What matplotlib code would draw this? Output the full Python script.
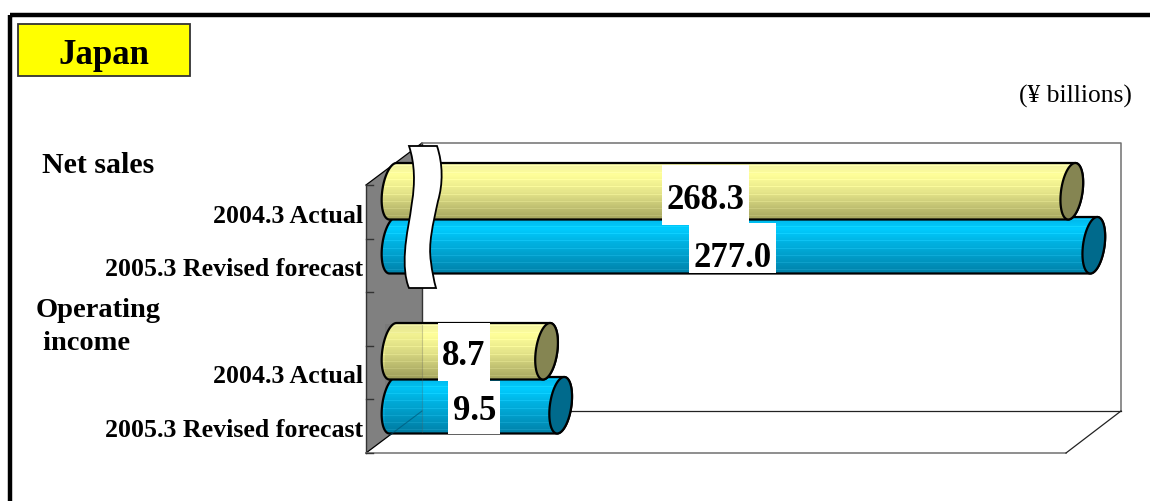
import numpy as np
import matplotlib
matplotlib.use("Agg")
import matplotlib.pyplot as plt
from matplotlib.patches import PathPatch, Polygon, Rectangle
from matplotlib.path import Path

plt.rcParams['font.family'] = ['Liberation Serif', 'DejaVu Serif']

# data
groups = ["Net sales", "Operating\n income"]
periods = ["2004.3 Actual", "2005.3 Revised forecast"]
net_sales = [268.3, 277.0]
operating_income = [8.7, 9.5]

# the axis is broken, each group has its own scale (pixels per unit)
base_x = 393
scale_net = 2.53
scale_op = 17.65

# layout in pixels
bar_tops = [[164, 218], [324, 378]]
bar_h = 56.5
label_frac = [0.46, 0.485]
box_spans = [[(166, 226), (224, 274)], [(324, 382), (382, 435)]]
text_y = [[201, 259], [357, 412]]
yellow = [(238, 238, 165), (255, 255, 153), (232, 232, 140), (165, 165, 95)]
blue = [(0, 180, 230), (0, 204, 255), (0, 175, 222), (0, 130, 170)]
cap_yellow = "#858552"
cap_blue = "#006A8C"


def ellipse(cx, cy, h, t):
    # tilted ellipse of the cylinder ends
    a, s = 10.8, 3.5
    return cx + a * np.cos(t) - s * np.sin(t), cy + h * np.sin(t)


def gradient(stops):
    n = 56
    rows = np.zeros((n, 1, 3))
    pos = np.linspace(0, 1, n)
    for c in range(3):
        rows[:, 0, c] = np.interp(pos, [0, 0.22, 0.5, 1], [s[c] for s in stops])
    rows[3::7] = np.minimum(rows[3::7] + 14, 255)
    return rows / 255


def cylinder(ax, x_end, top, stops, cap, z):
    h = bar_h / 2
    cy = top + h
    left = np.linspace(-np.pi / 2, -3 * np.pi / 2, 60)
    lx, ly = ellipse(base_x, cy, h, left)
    cap_t = np.linspace(np.pi / 2, -np.pi / 2, 60)
    rx, ry = ellipse(x_end, cy, h, cap_t)
    pts = np.vstack([np.c_[lx, ly], np.c_[rx, ry]])
    body = Polygon(pts, closed=True, fc="none", ec="black", lw=1.6, zorder=z + 0.2)
    clip = Polygon(pts, closed=True, transform=ax.transData)
    im = ax.imshow(gradient(stops), extent=(base_x - 15, x_end + 15, top + bar_h, top),
                   aspect="auto", interpolation="nearest", zorder=z)
    im.set_clip_path(clip)
    ax.add_patch(body)
    t = np.linspace(0, 2 * np.pi, 120)
    ex, ey = ellipse(x_end, cy, h, t)
    ax.add_patch(Polygon(np.c_[ex, ey], closed=True, fc=cap, ec="black", lw=1.6, zorder=z + 0.3))


fig = plt.figure(figsize=(11.5, 5.02), dpi=100)
ax = fig.add_axes([0, 0, 1, 1])
ax.axis("off")

# outer frame
ax.add_patch(Rectangle((9.5, 16), 1200, 600, fc="none", ec="black", lw=3.2, zorder=1))

# title box
ax.add_patch(Rectangle((18, 25), 172, 52, fc="#FFFF00", ec="#333333", lw=1.3, zorder=2))
ax.text(104, 56, "Japan", fontsize=25, fontweight="bold", ha="center", va="center", zorder=3)
ax.text(1132, 96, "(¥ billions)", fontsize=18.4, ha="right", va="center")

# 3d box: side wall, back wall, floor
ax.add_patch(Polygon([(366, 186), (422, 144), (422, 412), (366, 454)], fc="#808080",
                     ec="none", zorder=2))
ax.plot([366, 422], [186, 144], color="black", lw=0.9, zorder=2.1)
ax.plot([366, 422], [454, 412], color="black", lw=0.9, zorder=2.1)
ax.plot([366, 366], [186, 454], color="#333333", lw=1.0, zorder=2.1)
ax.plot([422, 422], [144, 412], color="#333333", lw=1.0, zorder=2.1)
ax.plot([422, 1121, 1121], [144, 144, 412], color="#707070", lw=1.1, zorder=2.1)
ax.plot([422, 1121], [412, 412], color="#222222", lw=0.9, zorder=2.1)
ax.plot([366, 1066], [454, 454], color="#707070", lw=1.1, zorder=2.1)
ax.plot([1066, 1121], [454, 412], color="#222222", lw=0.9, zorder=2.1)
for tick_y in [186, 240, 293, 347, 400, 454]:
    ax.plot([366, 373], [tick_y, tick_y], color="#333333", lw=1.0, zorder=2.1)

# bars, lower one first so the upper one overlaps it
for g, (vals, scale) in enumerate([(net_sales, scale_net), (operating_income, scale_op)]):
    for i in [1, 0]:
        stops = yellow if i == 0 else blue
        cap = cap_yellow if i == 0 else cap_blue
        cylinder(ax, base_x + vals[i] * scale, bar_tops[g][i], stops, cap, 3 + g + (1 - i))

# wall shows faintly through the bars
ax.add_patch(Rectangle((385, 325), 37, 109, fc="black", alpha=0.05, ec="none", zorder=6.5))
ax.plot([390, 422], [436, 412], color="#005070", lw=0.8, alpha=0.6, zorder=6.5)
ax.plot([422, 422], [326, 433], color="#555555", lw=0.8, alpha=0.3, zorder=6.5)

# value labels on white boxes
for g, (vals, scale) in enumerate([(net_sales, scale_net), (operating_income, scale_op)]):
    for i in range(2):
        cx = base_x + vals[i] * scale * label_frac[i]
        y0, y1 = box_spans[g][i]
        w = 87 if g == 0 else 52
        ax.add_patch(Rectangle((cx - w / 2, y0), w, y1 - y0, fc="white", ec="none", zorder=7))
        ax.text(cx, text_y[g][i], "%.1f" % vals[i], fontsize=25, fontweight="bold",
                ha="center", va="center", zorder=8)

# axis break
verts = [(409, 147), (437, 147),
         (443, 165), (443, 185), (438, 202),
         (433, 225), (428, 245), (431, 263),
         (432, 272), (434, 282), (436, 289),
         (409, 289),
         (405, 280), (404, 265), (405, 253),
         (406, 235), (410, 220), (412, 203),
         (415, 185), (415, 165), (409, 147),
         (409, 147)]
codes = [Path.MOVETO, Path.LINETO] + [Path.CURVE4] * 9 + [Path.LINETO] + [Path.CURVE4] * 9 + [Path.CLOSEPOLY]
ax.add_patch(PathPatch(Path(verts, codes), fc="white", ec="black", lw=1.3, zorder=9))

# category labels
ax.text(42, 166, groups[0], fontsize=21.5, fontweight="bold", ha="left", va="center")
ax.text(36, 327, groups[1], fontsize=20.5, fontweight="bold", ha="left", va="center", linespacing=1.4)
for y, name in zip([217, 270, 377, 431], periods * 2):
    ax.text(363, y, name, fontsize=18.6, fontweight="bold", ha="right", va="center")

ax.set_xlim(0, 1150)
ax.set_ylim(502, 0)
fig.savefig("out.png", dpi=100)
